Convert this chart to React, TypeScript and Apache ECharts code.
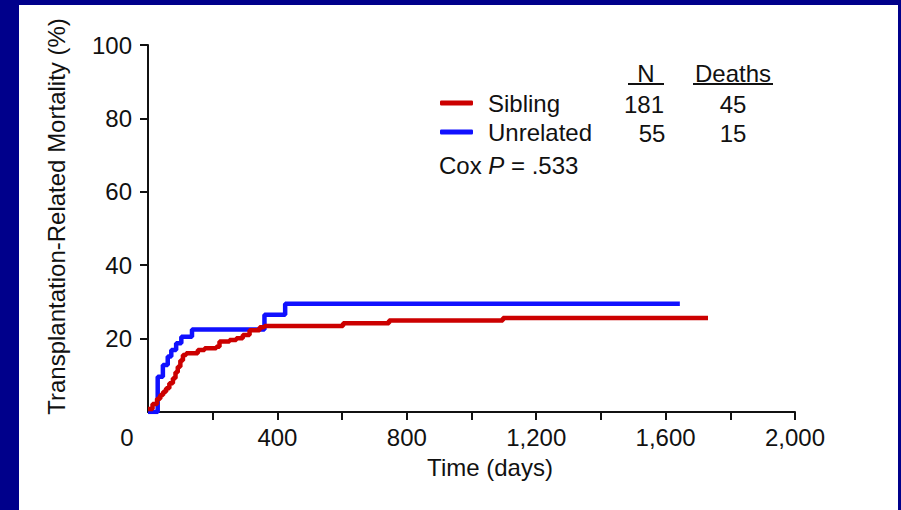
import React, { useEffect, useRef } from "react";
import * as echarts from "echarts";

const siblingTimes = [0, 14, 28, 38, 47, 56, 66, 77, 85, 92, 100, 108, 118, 154, 175, 211, 221, 252, 273, 293, 314, 345, 360, 603, 745, 1097, 1731];
const siblingValues = [0.8, 2.2, 3.6, 4.6, 5.5, 6.5, 7.8, 9.2, 10.8, 12.3, 14, 15.5, 16, 16.9, 17.4, 17.8, 19.2, 19.6, 20.1, 21, 22.3, 23.1, 23.4, 24.2, 24.9, 25.6, 25.6];

const unrelatedTimes = [0, 30, 46, 61, 72, 87, 103, 136, 360, 424, 1644];
const unrelatedValues = [0, 9.6, 12.8, 15.1, 16.9, 18.7, 20.5, 22.5, 26.5, 29.5, 29.5];

const groupNames = ["Sibling", "Unrelated"];
const groupN = ["181", "55"];
const groupDeaths = ["45", "15"];
const coxP = ".533";

const xTicks = [0, 400, 800, 1200, 1600, 2000];
const xTickMarks = [200, 400, 600, 800, 1000, 1200, 1400, 1600, 1800, 2000];
const yTicks = [20, 40, 60, 80, 100];

const FONT = "'Liberation Sans', Arial, Helvetica, sans-serif";
const RED = "#cc0000";
const BLUE = "#1010ff";

function pairs(t: number[], v: number[]) {
  return t.map((x, i) => [x, v[i]]);
}

export default function App() {
  const ref = useRef<HTMLDivElement>(null);
  useEffect(() => {
    if (!ref.current) return;
    const chart = echarts.init(ref.current, undefined, { renderer: "svg" });
    const txt = { fontFamily: FONT, fontSize: 24, fill: "#111" };
    chart.setOption({
      animation: false,
      backgroundColor: "#00008b",
      textStyle: { fontFamily: FONT },
      grid: { left: 148, right: 106, top: 45, bottom: 98, containLabel: false },
      legend: {
        orient: "vertical",
        left: 440,
        top: 91,
        padding: 0,
        itemGap: 5,
        itemWidth: 33,
        itemHeight: 5,
        icon: "roundRect",
        data: groupNames,
        textStyle: { fontFamily: FONT, fontSize: 24, color: "#111", padding: [0, 0, 0, 10] },
      },
      xAxis: {
        type: "value",
        min: 0,
        max: 2000,
        interval: 200,
        name: "Time (days)",
        nameLocation: "middle",
        nameGap: 43,
        nameTextStyle: { fontFamily: FONT, fontSize: 24, color: "#111", padding: [0, 0, 0, 37] },
        axisLine: { lineStyle: { color: "#111", width: 2 } },
        axisTick: { length: 8, customValues: xTickMarks, lineStyle: { color: "#111", width: 2 } },
        splitLine: { show: false },
        axisLabel: {
          fontFamily: FONT,
          fontSize: 24,
          color: "#111",
          margin: 13,
          formatter: (v: number) =>
            xTicks.includes(v) && v !== 0 ? v.toLocaleString("en-US") : "",
        },
      },
      yAxis: {
        type: "value",
        min: 0,
        max: 100,
        interval: 20,
        name: "Transplantation-Related Mortality (%)",
        nameLocation: "middle",
        nameGap: 80,
        nameTextStyle: { fontFamily: FONT, fontSize: 24, color: "#111", padding: [0, 0, 0, 24] },
        axisLine: { show: true, lineStyle: { color: "#111", width: 2 } },
        axisTick: { show: true, length: 8, customValues: yTicks, lineStyle: { color: "#111", width: 2 } },
        splitLine: { show: false },
        axisLabel: {
          fontFamily: FONT,
          fontSize: 24,
          color: "#111",
          margin: 16,
          formatter: (v: number) => (yTicks.includes(v) ? String(v) : ""),
        },
      },
      series: [
        {
          name: groupNames[0],
          type: "line",
          step: "end",
          showSymbol: false,
          color: RED,
          lineStyle: { color: RED, width: 4.5 },
          data: pairs(siblingTimes, siblingValues),
          z: 3,
        },
        {
          name: groupNames[1],
          type: "line",
          step: "end",
          showSymbol: false,
          color: BLUE,
          lineStyle: { color: BLUE, width: 4.5 },
          data: pairs(unrelatedTimes, unrelatedValues),
          z: 2,
        },
      ],
      graphic: [
        { type: "rect", z: -100, shape: { x: 19, y: 5, width: 879, height: 505 }, style: { fill: "#ffffff" } },
        { type: "text", x: 127, y: 437, style: { ...txt, text: "0", align: "center", verticalAlign: "middle" } },
        { type: "text", x: 646, y: 73, style: { ...txt, text: "N", align: "center", verticalAlign: "middle" } },
        { type: "line", shape: { x1: 628, y1: 84, x2: 664, y2: 84 }, style: { stroke: "#111", lineWidth: 2 } },
        { type: "text", x: 733, y: 73, style: { ...txt, text: "Deaths", align: "center", verticalAlign: "middle" } },
        { type: "line", shape: { x1: 693, y1: 84, x2: 773, y2: 84 }, style: { stroke: "#111", lineWidth: 2 } },
        { type: "text", x: 644, y: 104, style: { ...txt, text: groupN[0], align: "center", verticalAlign: "middle" } },
        { type: "text", x: 733, y: 104, style: { ...txt, text: groupDeaths[0], align: "center", verticalAlign: "middle" } },
        { type: "text", x: 652, y: 133, style: { ...txt, text: groupN[1], align: "center", verticalAlign: "middle" } },
        { type: "text", x: 733, y: 133, style: { ...txt, text: groupDeaths[1], align: "center", verticalAlign: "middle" } },
        {
          type: "text",
          x: 439,
          y: 165,
          style: {
            text: "{a|Cox }{b|P}{a| = " + coxP + "}",
            verticalAlign: "middle",
            rich: {
              a: { fontFamily: FONT, fontSize: 24, fill: "#111" },
              b: { fontFamily: FONT, fontSize: 24, fill: "#111", fontStyle: "italic" },
            },
          },
        },
      ],
    });
    return () => chart.dispose();
  }, []);
  return (
    <div style={{ position: "absolute", left: 0, top: 0, width: 901, height: 510 }}>
      <div ref={ref} style={{ width: 901, height: 510 }} />
    </div>
  );
}
